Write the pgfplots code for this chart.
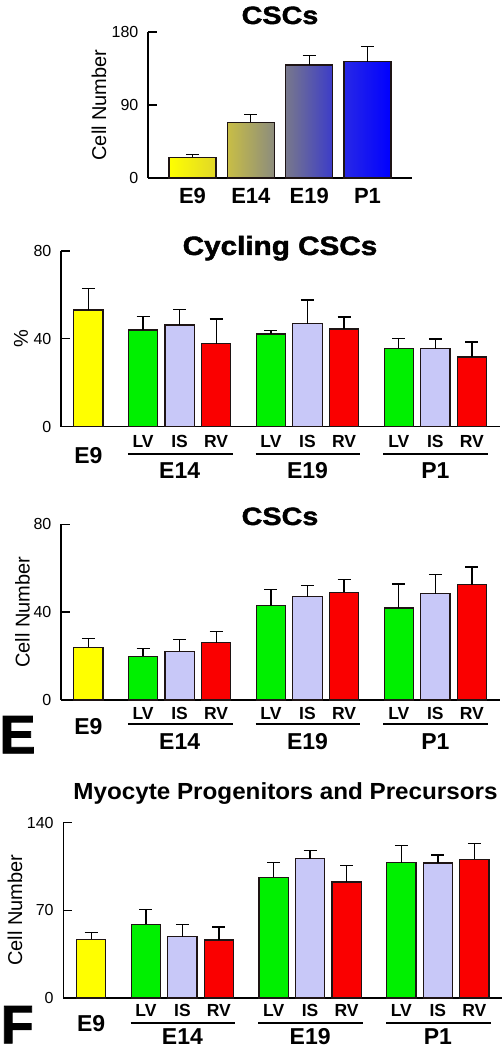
\documentclass[border=0pt]{standalone}
\usepackage{fontspec}
\setmainfont{Liberation Sans}
\newfontfamily\heavyfont[UprightFont=* Bold, FakeBold=1.6]{Liberation Sans}
\usepackage{graphicx}
\usepackage{pgfplots}
\pgfplotsset{compat=1.18}
\definecolor{cyel}{RGB}{255,255,0}
\definecolor{cgrn}{RGB}{0,240,0}
\definecolor{clav}{RGB}{200,200,248}
\definecolor{cred}{RGB}{250,0,0}
\definecolor{barline}{RGB}{30,20,20}
\definecolor{g1}{RGB}{255,255,0}
\definecolor{g2}{RGB}{225,215,40}
\definecolor{g3}{RGB}{200,190,70}
\definecolor{g4}{RGB}{140,140,125}
\definecolor{g5}{RGB}{120,120,140}
\definecolor{g6}{RGB}{60,60,200}
\definecolor{g7}{RGB}{40,40,230}
\definecolor{g8}{RGB}{0,0,255}

\tikzset{grplab/.style={anchor=base, inner sep=0pt, font=\bfseries\fontsize{23}{23}\selectfont}}
\pgfplotsset{
 panel/.style={
   scale only axis, clip=false,
   axis x line*=bottom, axis y line*=left,
   axis line style={-, line width=1.3pt, black},
   tick align=inside, major tick length=9pt,
   xtick style={draw=none},
   ytick style={line width=1.3pt, black},
   ymin=0,
   /pgf/number format/assume math mode=true,
   yticklabel style={font=\fontsize{16}{16}\selectfont, inner sep=0pt, xshift=-9.5pt},
   xticklabel style={font=\bfseries\fontsize{17.5}{17.5}\selectfont, anchor=base, inner sep=0pt},
   every axis y label/.style={rotate=90, anchor=center, inner sep=0pt, font=\fontsize{20}{20}\selectfont},
 },
 mybar/.style={
   ybar, bar width=0.8, bar shift=0pt, draw=barline, line width=1.2pt,
   /pgfplots/error bars/y dir=plus,
   /pgfplots/error bars/y explicit,
   /pgfplots/error bars/error bar style={line width=1.3pt, black},
   /pgfplots/error bars/error mark options={rotate=90, mark size=6.5pt, line width=1.3pt, black},
 },
}

\begin{document}
\begin{tikzpicture}
\path[use as bounding box] (0,0) rectangle (503pt,1048pt);

% ---------------- Panel 1: CSCs ----------------
\begin{axis}[panel, at={(148pt,870pt)}, anchor=south west,
  width=264pt, height=146pt, xmin=-0.763, xmax=3.763, ymax=180,
  ytick={0,90,180}, xtick={0,1,2,3}, xticklabels={E9,E14,E19,P1},
  xticklabel style={font=\bfseries\fontsize{22}{22}\selectfont, yshift=-25.3pt},
  ylabel={Cell Number}, ylabel style={at={(axis description cs:-0.1856,0.5)}}]
\addplot[mybar, bar width=0.806, left color=g1, right color=g2] table[x=x,y=y,y error=e]{
x y e
0 25.5 3.7
};
\addplot[mybar, bar width=0.806, left color=g3, right color=g4] table[x=x,y=y,y error=e]{
x y e
1 68.6 9.5
};
\addplot[mybar, bar width=0.806, left color=g5, right color=g6] table[x=x,y=y,y error=e]{
x y e
2 139.3 12.0
};
\addplot[mybar, bar width=0.806, left color=g7, right color=g8] table[x=x,y=y,y error=e]{
x y e
3 143.4 18.9
};
\end{axis}
\node[anchor=base, inner sep=0pt] at (280pt,1024pt) {\scalebox{1.15}[1]{\heavyfont\fontsize{25}{25}\selectfont CSCs}};

% ---------------- Panel 2: Cycling CSCs ----------------
\begin{axis}[panel, at={(61pt,621.3pt)}, anchor=south west,
  width=439pt, height=175.7pt, xmin=-0.748, xmax=11.27, ymax=80,
  ytick={0,40,80}, xtick={0,1.5,2.5,3.5,5,6,7,8.5,9.5,10.5},
  xticklabels={{\raisebox{-16pt}{\fontsize{23}{23}\selectfont E9}},LV,IS,RV,LV,IS,RV,LV,IS,RV},
  xticklabel style={yshift=-20.6pt},
  ylabel={\%}, ylabel style={at={(axis description cs:-0.0911,0.5)}}]
\addplot[mybar, fill=cyel] table[x=x,y=y,y error=e]{
x y e
0 53.1 9.9
};
\addplot[mybar, fill=cgrn] table[x=x,y=y,y error=e]{
x y e
1.5 44.0 6.2
5 42.2 1.7
8.5 35.7 4.4
};
\addplot[mybar, fill=clav] table[x=x,y=y,y error=e]{
x y e
2.5 46.3 7.1
6 46.9 10.8
9.5 35.5 4.4
};
\addplot[mybar, fill=cred] table[x=x,y=y,y error=e]{
x y e
3.5 37.8 11.2
7 44.5 5.4
10.5 31.7 6.9
};
\draw[line width=2pt] ([yshift=-27.3pt]axis cs:1.08,0) -- ([yshift=-27.3pt]axis cs:3.95,0);
\draw[line width=2pt] ([yshift=-27.3pt]axis cs:4.58,0) -- ([yshift=-27.3pt]axis cs:7.45,0);
\draw[line width=2pt] ([yshift=-27.3pt]axis cs:8.08,0) -- ([yshift=-27.3pt]axis cs:10.95,0);
\node[grplab] at ([yshift=-51.6pt]axis cs:2.5,0) {E14};
\node[grplab] at ([yshift=-51.6pt]axis cs:6,0) {E19};
\node[grplab] at ([yshift=-51.6pt]axis cs:9.5,0) {P1};
\end{axis}
\node[anchor=base, inner sep=0pt] at (280pt,793pt) {\scalebox{1.12}[1]{\heavyfont\fontsize{26.5}{26.5}\selectfont Cycling CSCs}};

% ---------------- Panel 3: CSCs by region ----------------
\begin{axis}[panel, at={(61pt,348pt)}, anchor=south west,
  width=439pt, height=175.7pt, xmin=-0.748, xmax=11.27, ymax=80,
  ytick={0,40,80}, xtick={0,1.5,2.5,3.5,5,6,7,8.5,9.5,10.5},
  xticklabels={{\raisebox{-15.7pt}{\fontsize{23}{23}\selectfont E9}},LV,IS,RV,LV,IS,RV,LV,IS,RV},
  xticklabel style={yshift=-19.3pt},
  ylabel={Cell Number}, ylabel style={at={(axis description cs:-0.0877,0.5)}}]
\addplot[mybar, fill=cyel] table[x=x,y=y,y error=e]{
x y e
0 24.0 3.9
};
\addplot[mybar, fill=cgrn] table[x=x,y=y,y error=e]{
x y e
1.5 19.9 3.5
5 43.0 7.2
8.5 41.9 10.9
};
\addplot[mybar, fill=clav] table[x=x,y=y,y error=e]{
x y e
2.5 22.2 5.4
6 47.1 5.1
9.5 48.4 8.7
};
\addplot[mybar, fill=cred] table[x=x,y=y,y error=e]{
x y e
3.5 26.0 5.3
7 49.0 5.8
10.5 52.5 8.1
};
\draw[line width=2pt] ([yshift=-24.3pt]axis cs:1.08,0) -- ([yshift=-24.3pt]axis cs:3.95,0);
\draw[line width=2pt] ([yshift=-24.3pt]axis cs:4.58,0) -- ([yshift=-24.3pt]axis cs:7.45,0);
\draw[line width=2pt] ([yshift=-24.3pt]axis cs:8.08,0) -- ([yshift=-24.3pt]axis cs:10.95,0);
\node[grplab] at ([yshift=-50pt]axis cs:2.5,0) {E14};
\node[grplab] at ([yshift=-50pt]axis cs:6,0) {E19};
\node[grplab] at ([yshift=-50pt]axis cs:9.5,0) {P1};
\end{axis}
\node[anchor=base, inner sep=0pt] at (280pt,523pt) {\scalebox{1.15}[1]{\heavyfont\fontsize{25}{25}\selectfont CSCs}};
\node[anchor=base west, inner sep=0pt] at (-0.7pt,294.7pt) {\heavyfont\fontsize{54}{54}\selectfont E};

% ---------------- Panel 4: Myocyte progenitors ----------------
\begin{axis}[panel, at={(63.3pt,50pt)}, anchor=south west,
  width=438.4pt, height=175.3pt, xmin=-0.765, xmax=11.25, ymax=140,
  ytick={0,70,140}, xtick={0,1.5,2.5,3.5,5,6,7,8.5,9.5,10.5},
  xticklabels={{\raisebox{-15pt}{\fontsize{23}{23}\selectfont E9}},LV,IS,RV,LV,IS,RV,LV,IS,RV},
  xticklabel style={yshift=-18.7pt},
  ylabel={Cell Number}, ylabel style={at={(axis description cs:-0.1102,0.5)}}]
\addplot[mybar, fill=cyel] table[x=x,y=y,y error=e]{
x y e
0 46.8 5.4
};
\addplot[mybar, fill=cgrn] table[x=x,y=y,y error=e]{
x y e
1.5 58.8 11.7
5 96.4 11.9
8.5 108.1 13.8
};
\addplot[mybar, fill=clav] table[x=x,y=y,y error=e]{
x y e
2.5 49.0 9.8
6 111.3 6.6
9.5 107.8 6.4
};
\addplot[mybar, fill=cred] table[x=x,y=y,y error=e]{
x y e
3.5 46.3 10.4
7 92.6 13.1
10.5 110.7 12.8
};
\draw[line width=2pt] ([yshift=-24.7pt]axis cs:1.08,0) -- ([yshift=-24.7pt]axis cs:3.95,0);
\draw[line width=2pt] ([yshift=-24.7pt]axis cs:4.58,0) -- ([yshift=-24.7pt]axis cs:7.45,0);
\draw[line width=2pt] ([yshift=-24.7pt]axis cs:8.08,0) -- ([yshift=-24.7pt]axis cs:10.95,0);
\node[grplab] at ([yshift=-46pt]axis cs:2.5,0) {E14};
\node[grplab] at ([yshift=-46pt]axis cs:6,0) {E19};
\node[grplab] at ([yshift=-46pt]axis cs:9.5,0) {P1};
\end{axis}
\node[anchor=base, inner sep=0pt] at (285.5pt,248pt) {\scalebox{1.04}[1]{\bfseries\fontsize{23.3}{23.3}\selectfont Myocyte Progenitors and Precursors}};
\node[anchor=base west, inner sep=0pt] at (0.5pt,4.7pt) {\heavyfont\fontsize{54}{54}\selectfont F};
\end{tikzpicture}
\end{document}
